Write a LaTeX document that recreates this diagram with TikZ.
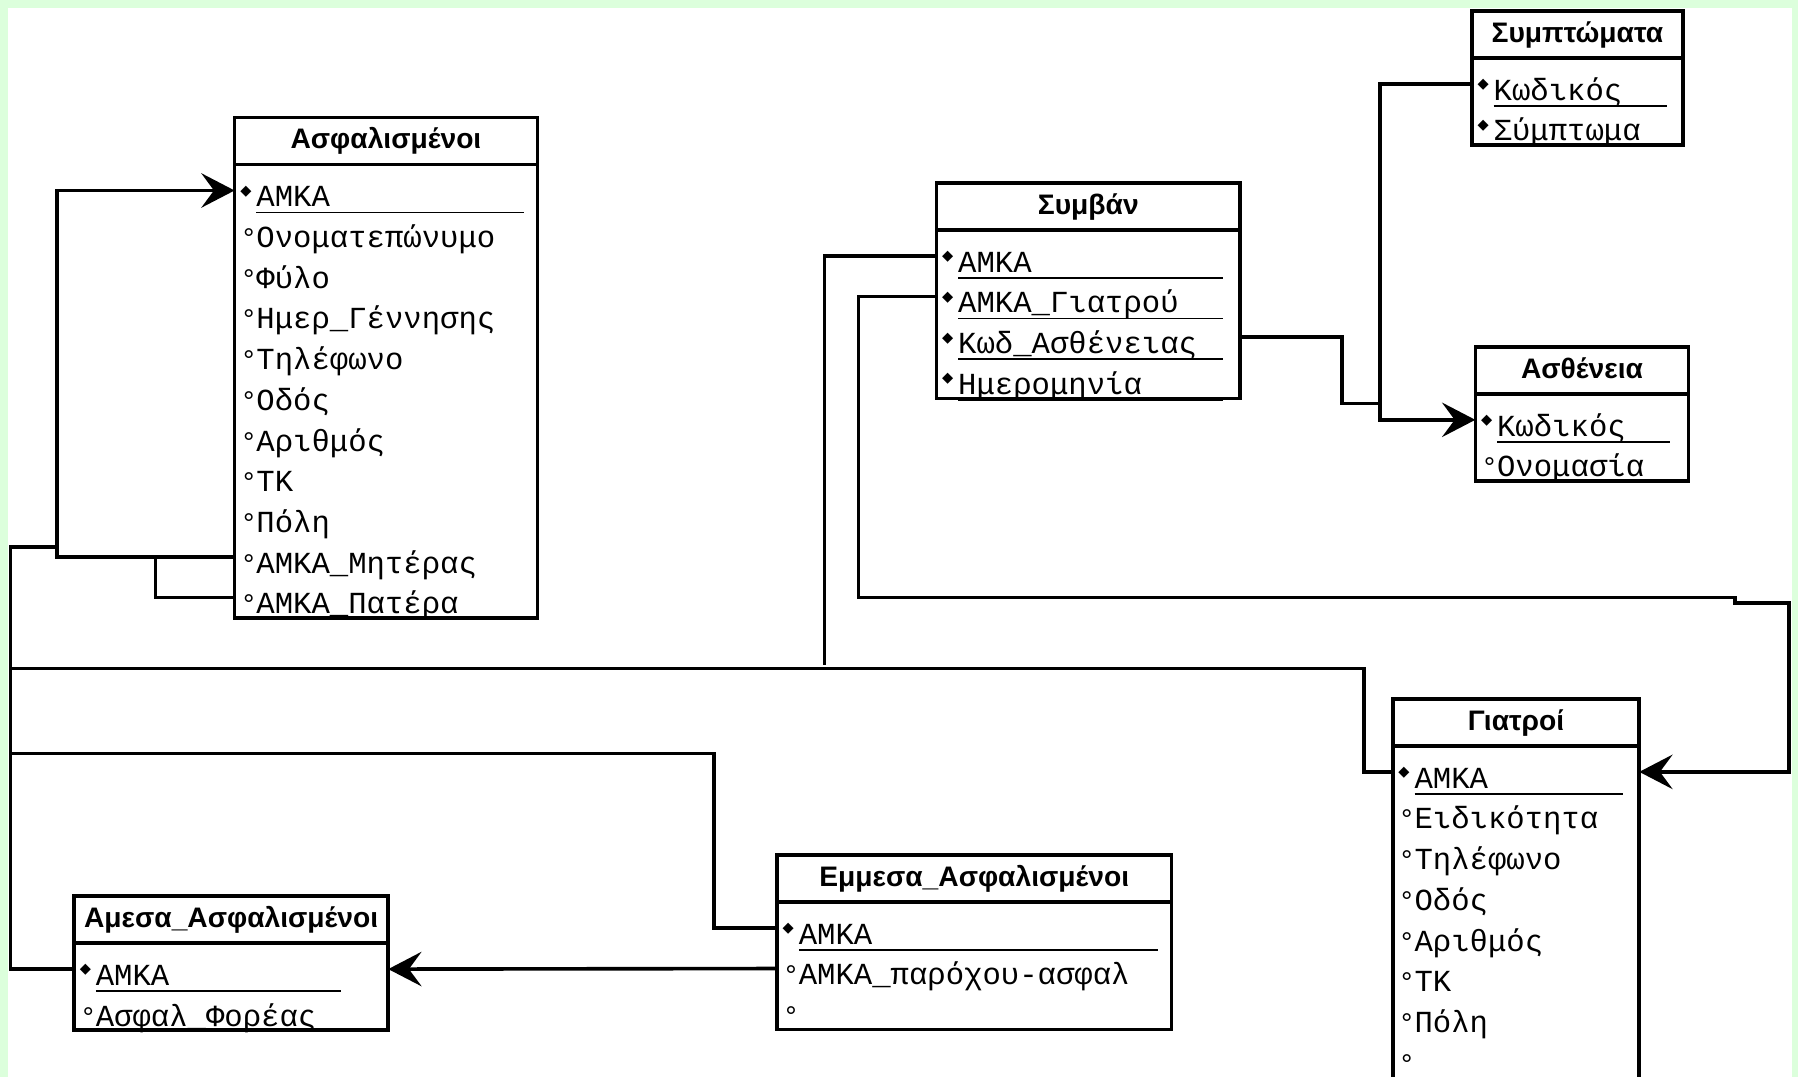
\documentclass[tikz,border=0pt]{standalone}
\usepackage{fontspec}
\usetikzlibrary{arrows.meta}
\newfontfamily\monofont{Liberation Mono}
\newfontfamily\headfont{Liberation Sans}
\newfontfamily\symfont{DejaVu Sans}
\definecolor{bggreen}{RGB}{220,255,220}
\newcommand\pkdot{\makebox[0.14cm][l]{\raisebox{0.1cm}{\symfont\fontsize{3.6}{4}\selectfont ◆}}}
\newcommand\atdot{\makebox[0.14cm][l]{\fontsize{7}{7}\selectfont °}}
\newcommand\pk[2]{\pkdot\underline{\makebox[#1][l]{\raisebox{0pt}[\height][0pt]{#2}}}}

\begin{document}
\begin{tikzpicture}[line width=0.9pt]
    \tikzstyle{tbl}=[rectangle,draw,matrix,anchor=north west,inner sep=0pt,row sep=0pt,nodes={inner xsep=0.05cm,inner ysep=0pt,outer sep=0pt}]
    \tikzstyle{head}=[font=\headfont\bfseries\fontsize{7}{8}\selectfont,align=center,text height=0.18cm,text depth=0.044cm,minimum height=0.41cm]
    \tikzstyle{att}=[font=\monofont\fontsize{7.6}{9}\selectfont,align=left,text height=0.32cm,text depth=0.035cm]
    \tikzstyle{fk}=[-{Stealth[length=0.29cm,width=0.3cm,inset=0.11cm]}]
    \useasboundingbox (0,0) rectangle (15.68,-9.39);
    \fill [bggreen] (0,0) rectangle (15.68,-9.39);
    \fill [white] (0.07,-0.07) rectangle (15.63,-9.39);
    \matrix [tbl,nodes={text width=2.54cm}] (asf) at (2.03,-1.01) {
      \node [head] (asf-h) {Ασφαλισμένοι}; \\[0.048cm]
      \node [att] (asf-1) {\pk{2.33cm}{ΑΜΚΑ}}; \\
      \node [att] (asf-2) {\atdot Ονοματεπώνυμο}; \\
      \node [att] (asf-3) {\atdot Φύλο}; \\
      \node [att] (asf-4) {\atdot Ημερ\_Γέννησης}; \\
      \node [att] (asf-5) {\atdot Τηλέφωνο}; \\
      \node [att] (asf-6) {\atdot Οδός}; \\
      \node [att] (asf-7) {\atdot Αριθμός}; \\
      \node [att] (asf-8) {\atdot ΤΚ}; \\
      \node [att] (asf-9) {\atdot Πόλη}; \\
      \node [att] (asf-10) {\atdot ΑΜΚΑ\_Μητέρας}; \\
      \node [att] (asf-11) {\atdot ΑΜΚΑ\_Πατέρα}; \\
    };
    \matrix [tbl,nodes={text width=2.55cm}] (symb) at (8.15,-1.58) {
      \node [head] (symb-h) {Συμβάν}; \\[0.048cm]
      \node [att] (symb-1) {\pk{2.31cm}{ΑΜΚΑ}}; \\
      \node [att] (symb-2) {\pk{2.31cm}{ΑΜΚΑ\_Γιατρού}}; \\
      \node [att] (symb-3) {\pk{2.31cm}{Κωδ\_Ασθένειας}}; \\
      \node [att] (symb-4) {\pk{2.31cm}{Ημερομηνία}}; \\
    };
    \matrix [tbl,nodes={text width=1.74cm}] (sympt) at (12.82,-0.08) {
      \node [head] (sympt-h) {Συμπτώματα}; \\[0.048cm]
      \node [att] (sympt-1) {\pk{1.51cm}{Κωδικός}}; \\
      \node [att] (sympt-2) {\pk{1.51cm}{Σύμπτωμα}}; \\
    };
    \matrix [tbl,nodes={text width=1.76cm}] (asth) at (12.85,-3.01) {
      \node [head] (asth-h) {Ασθένεια}; \\[0.048cm]
      \node [att] (asth-1) {\pk{1.51cm}{Κωδικός}}; \\
      \node [att] (asth-2) {\atdot Ονομασία}; \\
    };
    \matrix [tbl,nodes={text width=2.05cm}] (giat) at (12.13,-6.08) {
      \node [head] (giat-h) {Γιατροί}; \\[0.048cm]
      \node [att] (giat-1) {\pk{1.82cm}{ΑΜΚΑ}}; \\
      \node [att] (giat-2) {\atdot Ειδικότητα}; \\
      \node [att] (giat-3) {\atdot Τηλέφωνο}; \\
      \node [att] (giat-4) {\atdot Οδός}; \\
      \node [att] (giat-5) {\atdot Αριθμός}; \\
      \node [att] (giat-6) {\atdot ΤΚ}; \\
      \node [att] (giat-7) {\atdot Πόλη}; \\
      \node [att,text depth=0.4cm] (giat-8) {\atdot}; \\
    };
    \matrix [tbl,nodes={text width=3.34cm}] (emm) at (6.76,-7.44) {
      \node [head] (emm-h) {Εμμεσα\_Ασφαλισμένοι}; \\[0.048cm]
      \node [att] (emm-1) {\pk{3.13cm}{ΑΜΚΑ}}; \\
      \node [att] (emm-2) {\atdot ΑΜΚΑ\_παρόχου-ασφαλ}; \\
      \node [att] (emm-3) {\atdot}; \\
    };
    \matrix [tbl,nodes={text width=2.64cm}] (ame) at (0.63,-7.80) {
      \node [head] (ame-h) {Αμεσα\_Ασφαλισμένοι}; \\[0.048cm]
      \node [att] (ame-1) {\pk{2.14cm}{ΑΜΚΑ}}; \\
      \node [att] (ame-2) {\atdot Ασφαλ\_Φορέας}; \\
    };
    \draw (asf-h.south west) -- (asf-h.south east);
    \draw (symb-h.south west) -- (symb-h.south east);
    \draw (sympt-h.south west) -- (sympt-h.south east);
    \draw (asth-h.south west) -- (asth-h.south east);
    \draw (giat-h.south west) -- (giat-h.south east);
    \draw (emm-h.south west) -- (emm-h.south east);
    \draw (ame-h.south west) -- (ame-h.south east);
    \coordinate (trunk) at (0.09,-4.77);
    \coordinate (selfx) at (0.48,-4.77);
    \coordinate (midrow) at (0.09,-5.83);
    \coordinate (lowrow) at (0.09,-6.57);
    \coordinate (eventj) at (7.19,-5.80);
    \coordinate (diseasej) at (12.02,-3.52);
    \draw [fk] (asf-10.west) -- ++(-1.55,0) |- (asf-1.west);
    \draw (asf-11.west) -| ([xshift=-0.69cm]asf-10.west);
    \draw (ame-1.west) -| (trunk) -- (selfx);
    \draw (giat-1.west) -- ++(-0.25,0) |- (midrow);
    \draw (symb-1.west) -| (eventj);
    \draw (emm-1.west) -- ++(-0.55,0) |- (lowrow);
    \draw [fk] (emm-2.west) -- (ame-1.east);
    \draw [fk] (symb-2.west) -- ++(-0.68,0) |- (15.13,-5.21) -- ++(0,-0.05) -- ++(0.47,0) |- (giat-1.east);
    \draw [fk] (sympt-1.west) -- ++(-0.80,0) |- (asth-1.west);
    \draw (symb-3.east) -- ++(0.89,0) |- (diseasej);
  \end{tikzpicture}
\end{document}
